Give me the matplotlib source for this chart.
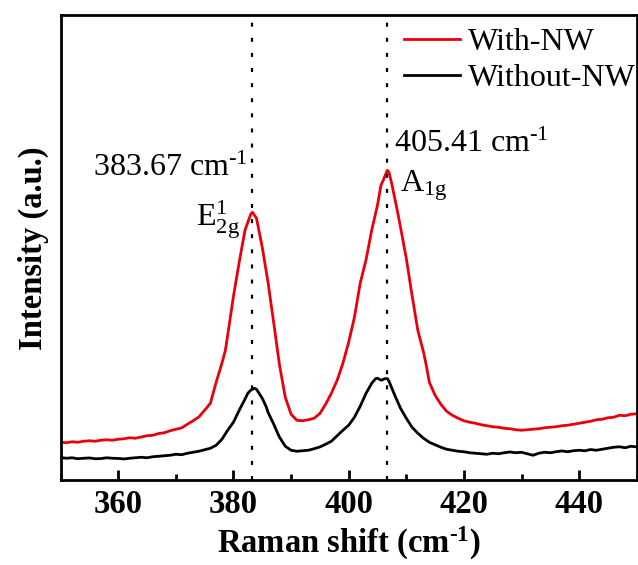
import numpy as np
import matplotlib
matplotlib.use('Agg')
import matplotlib.pyplot as plt
from matplotlib.ticker import MultipleLocator

plt.rcParams['font.family'] = ['Liberation Serif', 'DejaVu Serif']
plt.rcParams['mathtext.fontset'] = 'custom'
plt.rcParams['mathtext.rm'] = 'Liberation Serif'
plt.rcParams['mathtext.it'] = 'Liberation Serif:italic'
plt.rcParams['mathtext.bf'] = 'Liberation Serif:bold'

# Raman shift (cm-1) sample points
shift_red = [350, 351, 352, 353, 354, 355, 356, 357, 358, 359, 360, 361, 362, 363, 364, 365, 366, 367,
             368, 369, 370, 371, 372, 373, 374, 375, 376, 377, 378, 378.6, 379, 380, 381, 382, 382.5,
             383, 383.3, 384, 385, 386, 387, 388, 389, 390, 391, 392, 393, 394, 395, 396, 397, 398,
             399, 400, 401, 402, 403, 404, 405, 405.6, 406, 406.7, 407, 407.5, 408, 408.5, 409, 410,
             411, 412, 413, 413.5, 414, 415, 416, 417, 418, 419, 420, 421, 422, 423, 424, 425, 426,
             427, 428, 429, 430, 431, 432, 433, 434, 435, 436, 437, 438, 439, 440, 441, 442, 443,
             444, 445, 446, 447, 448, 449, 450]
with_nw = [38, 37.5, 38.5, 38, 39, 39.5, 39, 40, 40.5, 40, 41, 41.5, 42.5, 42, 43.3, 44.5, 45, 46.7,
           47.5, 49.5, 51, 52.3, 56, 59.5, 63.3, 70, 77, 98, 117, 130, 145, 184, 218, 250, 258,
           266, 268, 262, 233, 198, 157, 115, 83, 66, 60, 59.5, 60.5, 62, 66.7, 76, 87, 100,
           117, 138, 163, 197, 220, 250, 275, 295, 300, 310, 308, 296, 282, 268, 253, 222,
           185, 150, 128, 114, 98, 85, 76, 69, 65, 62, 59.5, 58, 57, 55.5, 54.5, 53.5, 53,
           52, 51.5, 50.5, 50, 50.5, 51, 51.5, 52.5, 53, 53.5, 54.5, 55, 56, 57, 58, 59, 60.5,
           61, 62.5, 63, 65, 64.5, 66, 66.5]

shift_black = [350, 351, 352, 353, 354, 355, 356, 357, 358, 359, 360, 361, 362, 363, 364, 365, 366,
               367, 368, 369, 370, 371, 372, 373, 374, 375, 376, 377, 378, 379, 380, 381, 382, 382.5,
               383, 383.6, 384, 385, 385.7, 386, 387, 387.7, 388, 389, 390, 391, 392, 393, 394, 395,
               396, 397, 398, 399, 400, 401, 402, 403, 404, 404.7, 405, 405.3, 405.7, 406.2, 406.7,
               407, 408, 409, 410, 411, 412, 413, 414, 415, 416, 417, 418, 419, 420, 421, 422, 423,
               424, 425, 426, 427, 428, 429, 430, 431, 432, 433, 434, 435, 436, 437, 438, 439, 440,
               441, 442, 443, 444, 445, 446, 447, 448, 449, 450]
without_nw = [22.7, 22, 22.5, 21.5, 22, 22.3, 21.5, 21.7, 22.5, 22, 21.8, 21.3, 22, 22.5, 23, 22.5, 23.5,
              24, 24.5, 25, 26, 25.5, 27, 28, 29, 30.5, 32, 35, 41, 50, 58, 70, 81, 87,
              90, 92, 91, 82, 73.3, 68, 56, 46.7, 43, 34, 30, 29, 29.5, 30, 31.5, 33.3,
              36, 39, 44.5, 50, 55, 63, 74, 86.7, 97, 101.7, 102, 101, 100, 101.5, 101.7,
              99, 85, 72, 62, 53, 47, 42, 38, 35.5, 33, 31, 30, 29, 28.5, 27.5, 27, 26.5,
              26, 27, 26.5, 27.5, 28.3, 27.5, 28, 26.5, 25, 27, 28, 27.5, 28.5, 29.3, 28.5, 29.5, 30,
              29.5, 30.7, 30, 31, 32, 33, 33.5, 32.5, 34, 33.3]

peak_pos = [383.3, 406.7]

fig = plt.figure(figsize=(6.38, 5.65), dpi=100)
ax = fig.add_axes([0.095, 0.150, 0.903, 0.823])

ax.plot(shift_red, with_nw, color='#e8000b', lw=2.0, label='With-NW')
ax.plot(shift_black, without_nw, color='black', lw=2.0, label='Without-NW')
for p in peak_pos:
    ax.axvline(p, color='black', ls=(0, (1.8, 5.0)), lw=1.6)

ax.set_xlim(350, 450)
ax.set_ylim(0, 465)
ax.xaxis.set_major_locator(MultipleLocator(20))
ax.xaxis.set_minor_locator(MultipleLocator(10))
ax.tick_params(axis='x', which='major', direction='in', length=7, width=2, labelsize=23.5, pad=6)
ax.tick_params(axis='x', which='minor', direction='in', length=4, width=2)
ax.set_yticks([])
for lab in ax.get_xticklabels():
    lab.set_fontweight('bold')
for s in ax.spines.values():
    s.set_linewidth(2)

hy = '\u2010'  # plain hyphen in the superscript, as in the original
ax.set_xlabel('Raman shift (cm$\\mathregular{^{' + hy + '1}}$)', fontsize=23.5, fontweight='bold', labelpad=4)
ax.set_ylabel('Intensity (a.u.)', fontsize=23.5, fontweight='bold', labelpad=8)

ax.text(382.4, 312, '383.67 cm$\\mathregular{^{' + hy + '1}}$', fontsize=23, ha='right', va='center')
ax.text(381.1, 260, r'E$\mathregular{^{1}_{2g}}$', fontsize=23, ha='right', va='center')
ax.text(407.9, 336, '405.41 cm$\\mathregular{^{' + hy + '1}}$', fontsize=23, ha='left', va='center')
ax.text(408.9, 295, r'A$\mathregular{_{1g}}$', fontsize=23, ha='left', va='center')

ax.legend(loc='upper right', bbox_to_anchor=(1.012, 0.99), frameon=False, fontsize=23,
          handlelength=1.75, handletextpad=0.25, labelspacing=0.2, borderaxespad=0.1, borderpad=0.15)

fig.savefig('out.png', dpi=100)
